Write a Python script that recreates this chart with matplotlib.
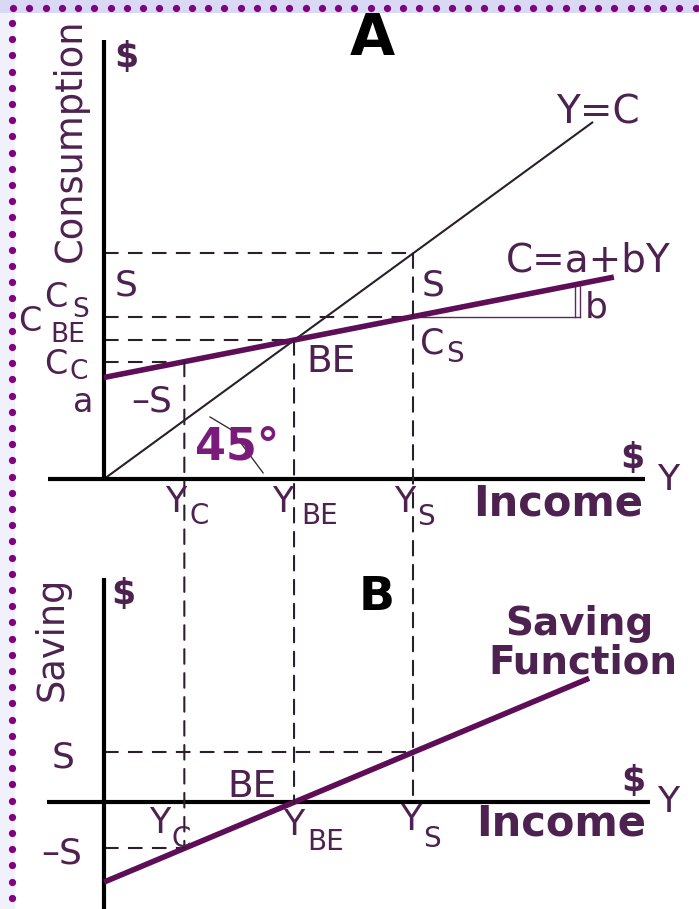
import matplotlib
matplotlib.use("Agg")
import matplotlib.pyplot as plt
from matplotlib.patches import ConnectionPatch, Rectangle
import numpy as np

# ---------------- data (arbitrary $ units) ----------------
# income levels marked on the horizontal axes
Y_C = 26.0
Y_BE = 61.5
Y_S = 100.0

# panel A: 45-degree line (Y = C) and consumption function C = a + bY
line45_Y = [0.0, 158.0]
line45_C = [0.0, 158.0]
cons_Y = [0.0, 165.0]
cons_C = [45.0, 89.5]
C_C = 52.0      # consumption at Y_C
C_BE = 61.5     # consumption at break-even
C_S = 72.0      # consumption at Y_S
C_YS = 100.0    # Y = C height at Y_S
slope_tri_Y = [Y_S, 154.0]   # run of the slope ("b") triangle
slope_tri_C = [72.0, 86.6]

# panel B: saving function
sav_Y = [0.0, 157.0]
sav_S = [-45.0, 69.5]
S_S = 28.0      # saving at Y_S
S_C = -26.0     # dissaving at Y_C

# ---------------- layout ----------------
W, H = 699, 909
fig = plt.figure(figsize=(W / 100, H / 100), dpi=100)
fig.patch.set_facecolor("white")

ORIGIN_X, X_SCALE = 104.0, 3.09
A_ORIGIN_Y, A_SCALE = 479.0, 2.256
B_ORIGIN_Y, B_SCALE = 802.0, 1.78

PURPLE_TXT = "#4e2250"
LINE_PURPLE = "#5e0e57"
DARK = "#2a1f2a"
DASH = (0, (7, 4.5))
DLW = 1.5

ax_a = fig.add_axes([0, 0, 1, 1])
ax_b = fig.add_axes([0, 0, 1, 1])
for ax, oy, sc in ((ax_a, A_ORIGIN_Y, A_SCALE), (ax_b, B_ORIGIN_Y, B_SCALE)):
    ax.set_xlim(-ORIGIN_X / X_SCALE, (W - ORIGIN_X) / X_SCALE)
    ax.set_ylim(-(H - oy) / sc, oy / sc)
    ax.set_axis_off()

# ---- panel A ----
ax_a.plot([0, 0], [-0.5, 194.6], color="black", lw=3.0, solid_capstyle="butt", zorder=4)
ax_a.plot([-18.1, 175.0], [0, 0], color="black", lw=3.0, solid_capstyle="butt", zorder=4)
ax_a.plot(line45_Y, line45_C, color=DARK, lw=1.5, zorder=3)
ax_a.plot(cons_Y, cons_C, color=LINE_PURPLE, lw=4.0, solid_capstyle="butt", zorder=5)
# horizontal dashed guides
for lvl, xend in ((C_YS, Y_S), (C_S, Y_S), (C_BE, Y_BE), (C_C, Y_C)):
    ax_a.plot([0, xend], [lvl, lvl], color=DARK, lw=DLW, linestyle=DASH, zorder=2)
# slope triangle
ax_a.plot(slope_tri_Y, [slope_tri_C[0], slope_tri_C[0]], color="#5a2a5a", lw=1.0, zorder=3)
ax_a.plot([slope_tri_Y[1], slope_tri_Y[1]], slope_tri_C, color="#5a2a5a", lw=1.0, zorder=3)
ax_a.plot([slope_tri_Y[1] - 1.6] * 2, [slope_tri_C[0], slope_tri_C[1] - 0.4], color="#5a2a5a", lw=1.0, zorder=3)
# 45 degree leader
ax_a.plot([34.3, 41.0, 51.5], [27.5, 22.0, 2.7], color=DARK, lw=0.9, zorder=3)

# ---- panel B ----
ax_b.plot([0, 0], [125.8, -61], color="black", lw=3.0, solid_capstyle="butt", zorder=4)
ax_b.plot([-18.4, 176.7], [0, 0], color="black", lw=3.0, solid_capstyle="butt", zorder=4)
ax_b.plot(sav_Y, sav_S, color=LINE_PURPLE, lw=4.0, solid_capstyle="butt", zorder=5)
for lvl, xend in ((S_S, Y_S), (S_C, Y_C)):
    ax_b.plot([0, xend], [lvl, lvl], color=DARK, lw=DLW, linestyle=DASH, zorder=2)

# ---- vertical dashed connectors between the panels ----
for xa, ya, yb in ((Y_C, C_C, S_C), (Y_BE, C_BE, 0.0), (Y_S, C_YS, 0.0)):
    con = ConnectionPatch(xyA=(xa, ya), coordsA=ax_a.transData,
                          xyB=(xa, yb), coordsB=ax_b.transData,
                          color=DARK, lw=DLW, linestyle=DASH, zorder=1)
    fig.add_artist(con)

# ---------------- text ----------------
FAM = "DejaVu Sans"


def txt(x, y, s, size, color=PURPLE_TXT, weight="normal", ha="center", va="baseline", rot=0, z=6):
    fig.text(x / W, 1 - y / H, s, fontsize=size, color=color, fontweight=weight,
             ha=ha, va=va, rotation=rot, family=FAM, zorder=z)


def sub(x, y, main, subs, xs, ys, size=25, ssize=20):
    txt(x, y, main, size)
    txt(xs, ys, subs, ssize)


# panel A labels
txt(372, 55, "A", 42, color="black", weight="bold")
txt(70, 140, "Consumption", 26.5, va="center", rot=90)
txt(126, 67, "$", 25, weight="bold")
txt(598, 124, "Y=C", 28)
txt(126, 295, "S", 26)
sub(56, 307, "C", "S", 81, 317, size=24, ssize=19)
sub(30, 331, "C", "BE", 68, 342, size=24, ssize=19)
sub(56, 374, "C", "C", 79, 379, size=24, ssize=19)
txt(83, 412, "a", 24)
txt(152, 412, "–S", 26)
txt(237, 459, "45°", 32, color="#7a1a7a", weight="bold")
txt(331, 372, "BE", 27)
txt(433, 295, "S", 26)
sub(432, 353, "C", "S", 455, 362)
txt(588, 272, "C=a+bY", 28)
txt(596, 317, "b", 26)
txt(632, 468, "$", 25, weight="bold")
txt(668, 490, "Y", 26)
sub(176, 512, "Y", "C", 199, 524)
sub(283, 512, "Y", "BE", 320, 524)
sub(405, 512, "Y", "S", 426, 525)
txt(558, 515, "Income", 30, weight="bold")

# panel B labels
txt(52, 639, "Saving", 26.5, va="center", rot=90)
txt(123, 604, "$", 25, weight="bold")
txt(377, 610, "B", 34, color="black", weight="bold")
txt(579, 635, "Saving", 28, weight="bold")
txt(583, 673, "Function", 28, weight="bold")
txt(63, 767, "S", 26)
txt(252, 797, "BE", 27)
sub(160, 833, "Y", "C", 181, 847)
sub(294, 835, "Y", "BE", 326, 850)
sub(411, 830, "Y", "S", 432, 847)
txt(561, 835, "Income", 30, weight="bold")
txt(633, 791, "$", 25, weight="bold")
txt(668, 812, "Y", 26)
txt(62, 863, "–S", 26)

# ---------------- decorative dotted frame ----------------
deco = fig.add_axes([0, 0, 1, 1], zorder=10)
deco.set_xlim(0, W)
deco.set_ylim(H, 0)
deco.set_axis_off()
deco.add_patch(Rectangle((0, 0), 15, H, facecolor="#f1f1fc", edgecolor="none"))
deco.add_patch(Rectangle((0, 0), W, 13, facecolor="#d9d9f6", edgecolor="none"))
dots_x = np.arange(13, W, 16.25)
dots_y = np.arange(23, H, 16.2)
deco.plot(dots_x, np.full_like(dots_x, 8.0), "o", color="#800080", ms=5.2, mec="none")
deco.plot(np.full_like(dots_y, 12.0), dots_y, "o", color="#800080", ms=5.2, mec="none")

fig.savefig("out.png", dpi=100)
